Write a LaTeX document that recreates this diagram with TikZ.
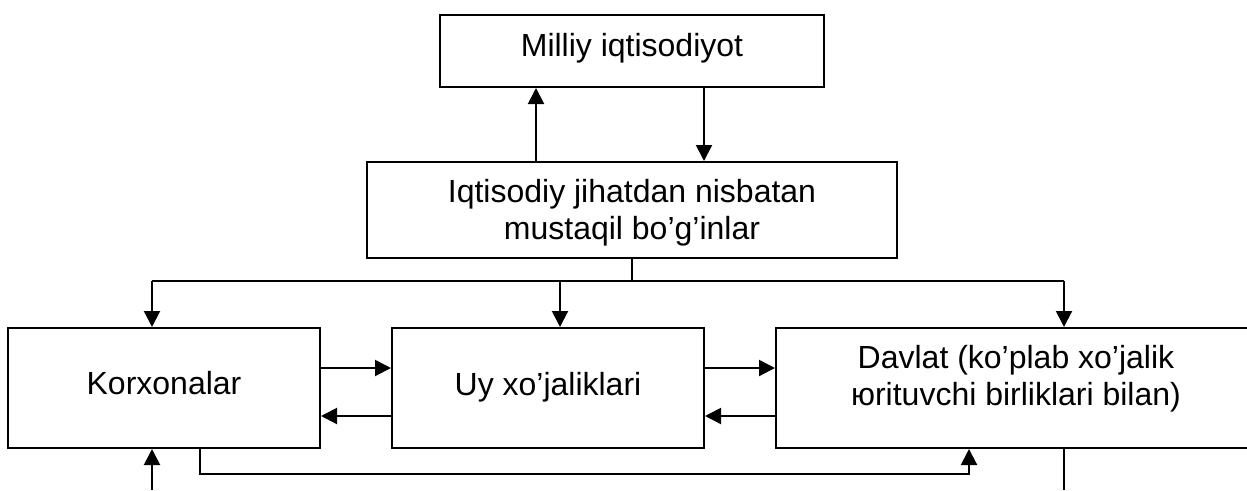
\documentclass[tikz,border=0pt]{standalone}
\usepackage{fontspec}
\setmainfont{Liberation Sans}
\usetikzlibrary{arrows.meta}
\begin{document}
\begin{tikzpicture}[x=1pt,y=-1pt,
  box/.style={draw,line width=2pt,inner sep=0pt},
  txt/.style={font=\fontsize{32}{37}\selectfont,inner sep=0pt,align=center,anchor=base},
  arr/.style={line width=2pt,-{Triangle[length=16pt,width=16pt]}},
  ln/.style={line width=2pt}]
\useasboundingbox (0,0) rectangle (1247,490);
\clip (0,0) rectangle (1247,490);
% boxes
\node[box,minimum width=384pt,minimum height=72pt] (milliy) at (632,51) {};
\node[box,minimum width=530pt,minimum height=96pt] (iqt) at (632,210) {};
\node[box,minimum width=312pt,minimum height=120pt] (korx) at (164,388) {};
\node[box,minimum width=312pt,minimum height=120pt] (uy) at (548,388) {};
\node[box,minimum width=480pt,minimum height=120pt] (davlat) at (1016,388) {};
% texts (base = baseline of the last line)
\node[txt] (milliy-t) at (632,56) {Milliy iqtisodiyot};
\node[txt] (iqt-t) at (632,239) {Iqtisodiy jihatdan nisbatan\\mustaqil bo’g’inlar};
\node[txt] (korx-t) at (164,394) {Korxonalar};
\node[txt] (uy-t) at (548,395) {Uy xo’jaliklari};
\node[txt] (dav-t) at (1016,405) {Davlat (ko’plab xo’jalik\\юrituvchi birliklari bilan)};
% connectors
\draw[arr] (536,0 |- iqt.north) -- (536,0 |- milliy.south);
\draw[arr] (704,0 |- milliy.south) -- (704,0 |- iqt.north);
\coordinate (jn) at (632,281);
\coordinate (bl) at (152,281);
\coordinate (br) at (1064,281);
\draw[ln] (iqt.south) -- (jn);
\draw[ln] (bl) -- (br);
\draw[arr] (bl) -- (bl |- korx.north);
\draw[arr] (560,281) -- (560,0 |- uy.north);
\draw[arr] (br) -- (br |- davlat.north);
\draw[arr] (korx.east |- 0,368) -- (uy.west |- 0,368);
\draw[arr] (uy.west |- 0,416) -- (korx.east |- 0,416);
\draw[arr] (uy.east |- 0,368) -- (davlat.west |- 0,368);
\draw[arr] (davlat.west |- 0,416) -- (uy.east |- 0,416);
\draw[arr] (200,0 |- korx.south) -- (200,474) -- (969,474) -- (969,0 |- davlat.south);
\coordinate (bin) at (152,490);
\draw[arr] (bin) -- (bin |- korx.south);
\coordinate (bout) at (1064,490);
\draw[ln] (br |- davlat.south) -- (bout);
\end{tikzpicture}
\end{document}
